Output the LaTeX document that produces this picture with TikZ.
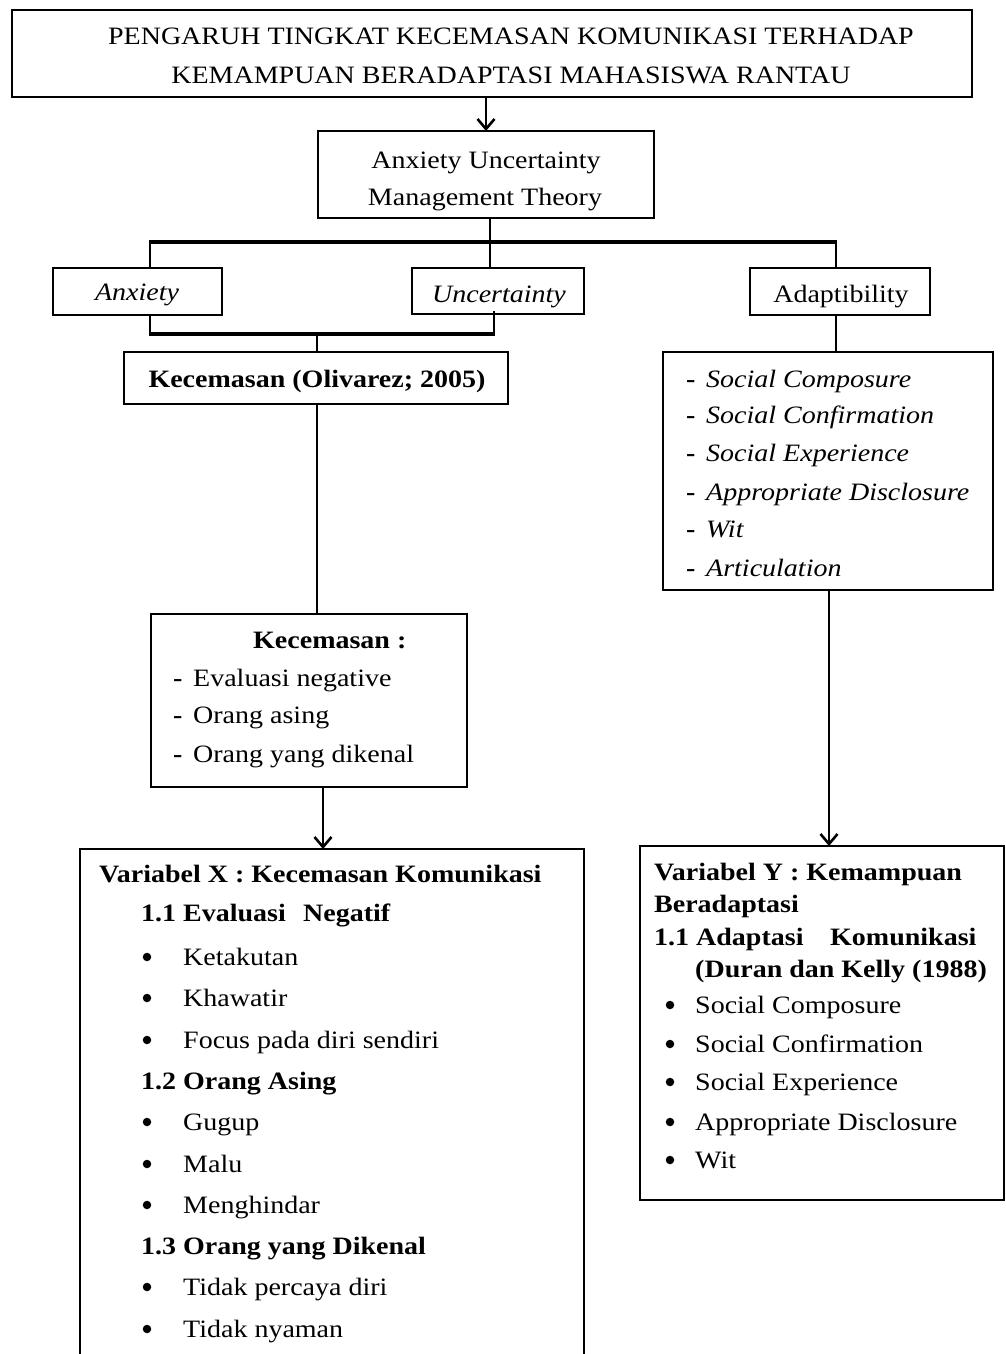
\documentclass[tikz,border=0pt]{standalone}
\usepackage{fontspec}
\setmainfont{Liberation Serif}[FakeStretch=1.12]
\usetikzlibrary{arrows.meta}
\newcommand\txtsize{\fontsize{25}{30}\selectfont}
\begin{document}
\begin{tikzpicture}[x=1pt,y=-1pt,
  box/.style={draw, line width=1.3pt, inner sep=0pt, outer sep=0pt},
  tl/.style={anchor=base west, inner sep=0pt, font=\txtsize},
  tc/.style={anchor=base, inner sep=0pt, font=\txtsize},
  dot/.style={circle, fill, inner sep=0pt, minimum size=8.5pt},
  conn/.style={line width=2pt},
  brk/.style={line width=3.2pt},
  arr/.style={line width=2.3pt, -{Straight Barb[length=10pt,width=17pt,line width=2.6pt]}}]
\clip (0,0) rectangle (1006,1354);
\fill[white] (0,0) rectangle (1006,1354);
% boxes
\node[box, minimum width=960pt, minimum height=87pt] (title) at (492,53.5) {};
\node[box, minimum width=336pt, minimum height=87pt] (aum) at (486,174.5) {};
\node[box, minimum width=169pt, minimum height=47pt] (anx) at (137.5,291.5) {};
\node[box, minimum width=172pt, minimum height=46pt] (unc) at (498,291) {};
\node[box, minimum width=180pt, minimum height=47pt] (adp) at (840,291.5) {};
\node[box, minimum width=384pt, minimum height=52pt, line width=1.6pt] (kec) at (316,378) {};
\node[box, minimum width=330pt, minimum height=238pt] (soc) at (828,471) {};
\node[box, minimum width=316pt, minimum height=173pt] (kl) at (309,700.5) {};
\node[box, minimum width=504pt, minimum height=551pt] (vx) at (332,1124.5) {};
\node[box, minimum width=364pt, minimum height=354pt] (vy) at (822,1023) {};
% title
\node[tc] (t1) at (511,45) {PENGARUH TINGKAT KECEMASAN KOMUNIKASI TERHADAP};
\node[tc] (t2) at (511,83) {KEMAMPUAN BERADAPTASI MAHASISWA RANTAU};
% AUM
\node[tc] (a1) at (486,168) {Anxiety Uncertainty};
\node[tc] (a2) at (485,205) {Management Theory};
\node[tc] (anxt) at (137,300) {\itshape Anxiety};
\node[tc] (unct) at (499,302) {\itshape Uncertainty};
\node[tc] (adpt) at (841,302) {Adaptibility};
\node[tc] (kect) at (317,387) {\bfseries Kecemasan (Olivarez; 2005)};
% social list
\foreach \yy/\tt [count=\i] in {387/Social Composure,423/Social Confirmation,461/Social Experience,500/Appropriate Disclosure,537/Wit,576/Articulation}{
  \node[tl] (sd\i) at (686,\yy) {\bfseries -};
  \node[tl] (st\i) at (706,\yy) {\itshape \tt};
}
% kecemasan list
\node[tl] (k0) at (253,648) {\bfseries Kecemasan :};
\foreach \yy/\tt [count=\i] in {686/Evaluasi negative,723/Orang asing,762/Orang yang dikenal}{
  \node[tl] (kd\i) at (173,\yy) {\bfseries -};
  \node[tl] (kt\i) at (193,\yy) {\tt};
}
% Variabel X
\node[tl] (x0) at (99,882) {\bfseries Variabel X : Kecemasan Komunikasi};
\node[tl] (x1a) at (141,921) {\bfseries 1.1 Evaluasi};
\node[tl] (x1b) at (303,921) {\bfseries Negatif};
\node[tl] (x2) at (141,1089) {\bfseries 1.2 Orang Asing};
\node[tl] (x3) at (141,1254) {\bfseries 1.3 Orang yang Dikenal};
\foreach \yy/\tt [count=\i] in {965/Ketakutan,1006/Khawatir,1048/Focus pada diri sendiri,1130/Gugup,1172/Malu,1213/Menghindar,1295/Tidak percaya diri,1337/Tidak nyaman}{
  \node[dot] (xb\i) at (147,\yy-8) {};
  \node[tl] (xt\i) at (183,\yy) {\tt};
}
% Variabel Y
\node[tl] (y0) at (654,880) {\bfseries Variabel Y : Kemampuan};
\node[tl] (y1) at (654,912) {\bfseries Beradaptasi};
\node[tl] (y2a) at (654,945) {\bfseries 1.1 Adaptasi};
\node[tl] (y2b) at (830,945) {\bfseries Komunikasi};
\node[tl] (y3) at (695,977) {\bfseries (Duran dan Kelly (1988)};
\foreach \yy/\tt [count=\i] in {1013/Social Composure,1052/Social Confirmation,1090/Social Experience,1130/Appropriate Disclosure,1168/Wit}{
  \node[dot] (yb\i) at (670,\yy-8) {};
  \node[tl] (yt\i) at (695,\yy) {\tt};
}
% connectors
\draw[arr] (aum.north |- title.south) -- (aum.north);
\coordinate (jA) at (150,242);
\coordinate (jB) at (490,242);
\coordinate (jC) at (836,242);
\draw[conn] (jB |- aum.south) -- (jB);
\draw[conn] (jA |- anx.north) -- (jA);
\draw[conn] (jB |- unc.north) -- (jB);
\draw[conn] (jC |- adp.north) -- (jC);
\draw[brk] ([xshift=-1pt]jA) -- ([xshift=1pt]jC);
\coordinate (bL) at (150,334);
\coordinate (bR) at (494,334);
\coordinate (bM) at (317,334);
\draw[conn] (bL |- anx.south) -- (bL);
\draw[conn] ([yshift=3pt]bR |- unc.south) -- (bR);
\draw[brk] ([xshift=-1pt]bL) -- ([xshift=1pt]bR);
\draw[conn] (bM) -- (bM |- kec.north);
\draw[conn] (bM |- kec.south) -- (bM |- kl.north);
\draw[conn] ([xshift=-4pt]adp.south) -- ([xshift=-4pt]adp.south |- soc.north);
\draw[arr] ([xshift=14pt]kl.south) -- ([xshift=14pt]kl.south |- vx.north);
\draw[arr] ([xshift=1pt]soc.south) -- ([xshift=1pt]soc.south |- vy.north);
\end{tikzpicture}
\end{document}
